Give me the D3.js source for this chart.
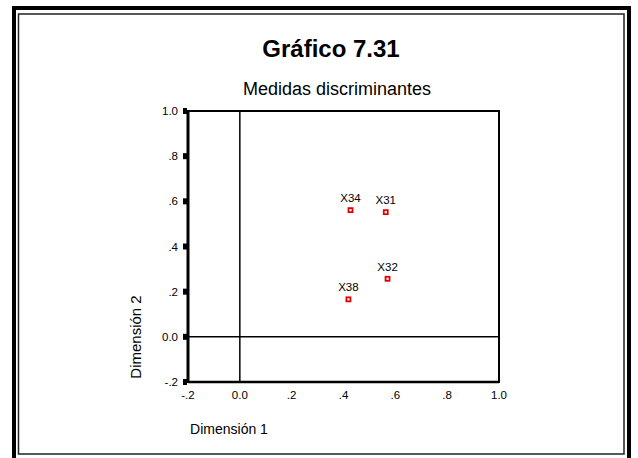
<!DOCTYPE html>
<html><head><meta charset="utf-8">
<script src="https://cdn.jsdelivr.net/npm/d3@7"></script>
<style>body{margin:0;background:#fff}svg{display:block}text{font-family:"Liberation Sans",Arial,sans-serif}</style>
</head><body>
<svg id="c" width="638" height="458"></svg>
<script>
const labels = ["X34", "X31", "X32", "X38"];
const dim1 = [0.427, 0.563, 0.570, 0.419];
const dim2 = [0.561, 0.552, 0.257, 0.166];
const xTicks = [-0.2, 0.0, 0.2, 0.4, 0.6, 0.8, 1.0];
const yTicks = [-0.2, 0.0, 0.2, 0.4, 0.6, 0.8, 1.0];
const title = "Gráfico 7.31";
const subtitle = "Medidas discriminantes";

const fmt = v => {
  if (Math.abs(v) < 1e-9) return "0.0";
  if (Math.abs(v) === 1) return v.toFixed(1);
  return (v < 0 ? "-" : "") + "." + Math.round(Math.abs(v) * 10);
};

const svg = d3.select("#c");
svg.append("rect").attr("x", 14).attr("y", 8).attr("width", 615).attr("height", 460)
  .attr("fill", "none").attr("stroke", "#000").attr("stroke-width", 4);
svg.append("rect").attr("x", 18.5).attr("y", 14).attr("width", 605.5).attr("height", 440)
  .attr("fill", "none").attr("stroke", "#222").attr("stroke-width", 1.5);

const x = d3.scaleLinear().domain([-0.2, 1.0]).range([188, 499]);
const y = d3.scaleLinear().domain([-0.2, 1.0]).range([382, 111]);

svg.append("text").attr("x", 331).attr("y", 57).attr("text-anchor", "middle")
  .attr("font-size", 24).attr("font-weight", "bold").text(title);
svg.append("text").attr("x", 337).attr("y", 95).attr("text-anchor", "middle")
  .attr("font-size", 18).text(subtitle);

svg.append("rect").attr("x", x(-0.2)).attr("y", y(1.0))
  .attr("width", x(1.0) - x(-0.2)).attr("height", y(-0.2) - y(1.0))
  .attr("fill", "none").attr("stroke", "#000").attr("stroke-width", 2);
svg.append("line").attr("x1", x(-0.2)).attr("x2", x(-0.2)).attr("y1", y(1.0) - 1).attr("y2", y(-0.2) + 1)
  .attr("stroke", "#000").attr("stroke-width", 3);
svg.append("line").attr("x1", x(-0.2)).attr("x2", x(1.0)).attr("y1", y(-0.2)).attr("y2", y(-0.2))
  .attr("stroke", "#000").attr("stroke-width", 2.5);
svg.append("line").attr("x1", x(0)).attr("x2", x(0)).attr("y1", y(1.0)).attr("y2", y(-0.2))
  .attr("stroke", "#000").attr("stroke-width", 1.5);
svg.append("line").attr("x1", x(-0.2)).attr("x2", x(1.0)).attr("y1", y(0)).attr("y2", y(0))
  .attr("stroke", "#000").attr("stroke-width", 1.5);

svg.selectAll(".yt").data(yTicks).enter().append("rect")
  .attr("x", x(-0.2) - 5).attr("y", d => y(d) - 3).attr("width", 4).attr("height", 6).attr("fill", "#000");
svg.selectAll(".yl").data(yTicks).enter().append("text")
  .attr("x", 178).attr("y", d => y(d) + 4).attr("text-anchor", "end")
  .attr("font-size", 11.5).text(fmt);
svg.selectAll(".xl").data(xTicks).enter().append("text")
  .attr("x", d => x(d)).attr("y", 399).attr("text-anchor", "middle")
  .attr("font-size", 11.5).text(fmt);

svg.append("text").attr("x", 229).attr("y", 434).attr("text-anchor", "middle")
  .attr("font-size", 14).text("Dimensión 1");
svg.append("text").attr("transform", "translate(141,337) rotate(-90)").attr("text-anchor", "middle")
  .attr("font-size", 15).text("Dimensión 2");

const pts = labels.map((l, i) => ({l, a: dim1[i], b: dim2[i]}));
svg.selectAll(".pt").data(pts).enter().append("rect")
  .attr("x", d => x(d.a) - 2).attr("y", d => y(d.b) - 2).attr("width", 4).attr("height", 4)
  .attr("fill", "#fff").attr("stroke", "#e00000").attr("stroke-width", 1.8);
svg.selectAll(".pl").data(pts).enter().append("text")
  .attr("x", d => x(d.a)).attr("y", d => y(d.b) - 8).attr("text-anchor", "middle")
  .attr("font-size", 11.5).text(d => d.l);
</script>
</body></html>
